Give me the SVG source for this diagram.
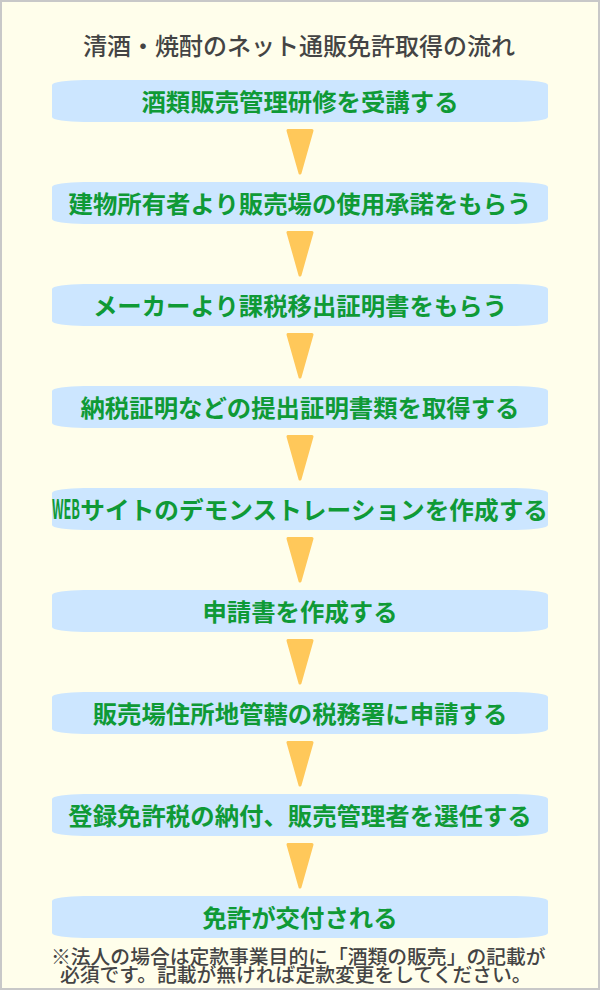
<svg xmlns="http://www.w3.org/2000/svg" width="600" height="990" viewBox="0 0 600 990">
<defs>
<style>
.bg{fill:#fffeeb;stroke:#c8c8c8;stroke-width:2}
.box{fill:#cce6ff}
.lbl{font-family:"Noto Sans CJK JP","Noto Sans",sans-serif;font-size:24.4px;font-weight:bold;fill:#0f9a36;text-anchor:middle}
.title{font-family:"Noto Sans CJK JP","Noto Sans",sans-serif;font-size:24px;font-weight:500;fill:#444;text-anchor:middle}
.note{font-family:"Noto Sans CJK JP","Noto Sans",sans-serif;font-size:19.8px;font-weight:500;fill:#444}
.arr{fill:#ffc85a;stroke:#ffc85a;stroke-width:3;stroke-linejoin:round}
</style>
</defs>
<rect class="bg" x="1" y="1" width="598" height="988"/>
<text id="title" class="title" x="299" y="55">清酒・焼酎のネット通販免許取得の流れ</text>
<g id="connectors">
<polygon class="arr" points="288,130.5 312,130.5 300,173"/>
<polygon class="arr" points="288,232.5 312,232.5 300,275"/>
<polygon class="arr" points="288,334.5 312,334.5 300,377"/>
<polygon class="arr" points="288,436.5 312,436.5 300,479"/>
<polygon class="arr" points="288,538.5 312,538.5 300,581"/>
<polygon class="arr" points="288,640.5 312,640.5 300,683"/>
<polygon class="arr" points="288,742.5 312,742.5 300,785"/>
<polygon class="arr" points="288,844.5 312,844.5 300,887"/>
</g>
<g id="step1"><rect class="box" x="52" y="80" width="496" height="42" rx="32" ry="5"/><text class="lbl" x="300" y="111">酒類販売管理研修を受講する</text></g>
<g id="step2"><rect class="box" x="52" y="182" width="496" height="42" rx="32" ry="5"/><text class="lbl" x="300" y="213">建物所有者より販売場の使用承諾をもらう</text></g>
<g id="step3"><rect class="box" x="52" y="284" width="496" height="42" rx="32" ry="5"/><text class="lbl" x="300" y="315">メーカーより課税移出証明書をもらう</text></g>
<g id="step4"><rect class="box" x="52" y="386" width="496" height="42" rx="32" ry="5"/><text class="lbl" x="300" y="417">納税証明などの提出証明書類を取得する</text></g>
<g id="step5"><rect class="box" x="52" y="488" width="496" height="42" rx="32" ry="5"/><text class="lbl" x="300" y="519" textLength="496" lengthAdjust="spacingAndGlyphs"><tspan font-size="27" textLength="28" lengthAdjust="spacingAndGlyphs">WEB</tspan>サイトのデモンストレーションを作成する</text></g>
<g id="step6"><rect class="box" x="52" y="590" width="496" height="42" rx="32" ry="5"/><text class="lbl" x="300" y="621">申請書を作成する</text></g>
<g id="step7"><rect class="box" x="52" y="692" width="496" height="42" rx="32" ry="5"/><text class="lbl" x="300" y="723">販売場住所地管轄の税務署に申請する</text></g>
<g id="step8"><rect class="box" x="52" y="794" width="496" height="42" rx="32" ry="5"/><text class="lbl" x="300" y="825">登録免許税の納付、販売管理者を選任する</text></g>
<g id="step9"><rect class="box" x="52" y="896" width="496" height="42" rx="32" ry="5"/><text class="lbl" x="300" y="927">免許が交付される</text></g>
<g id="note">
<text class="note" x="51" y="964">※法人の場合は定款事業目的に「酒類の販売」の記載が</text>
<text class="note" x="60" y="982">必須です。記載が無ければ定款変更をしてください。</text>
</g>
</svg>
